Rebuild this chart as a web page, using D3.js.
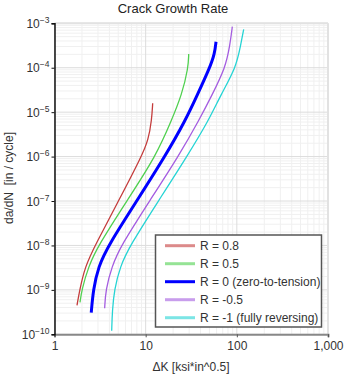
<!DOCTYPE html>
<html>
<head>
<meta charset="utf-8">
<script src="https://cdn.jsdelivr.net/npm/d3@7"></script>
<style>
  html, body { margin: 0; padding: 0; background: #fff; }
  svg { display: block; font-family: "Liberation Sans", Arial, sans-serif; }
</style>
</head>
<body>
<svg id="chart" width="346" height="375"></svg>
<script>
// Stress intensity range (ksi*in^0.5) and growth rate (in/cycle) per stress ratio
const kR08 = [1.765, 1.89, 2.16, 2.78, 5.1, 9.05, 10.69, 11.65, 11.94];
const rateR08 = [4.5e-10, 1e-9, 3.3e-9, 1e-8, 1.05e-7, 1.03e-6, 2.36e-6, 6.7e-6, 1.58e-5];

const kR05 = [1.905, 1.99, 2.35, 3.02, 6.3, 12.98, 19.3, 24.85, 29.35, 29.65];
const rateR05 = [5.25e-10, 1e-9, 3.3e-9, 1e-8, 1.05e-7, 1.03e-6, 6.7e-6, 2.43e-5, 1e-4, 2.04e-4];

const kR0 = [2.53, 2.66, 3.02, 3.89, 8.1, 16.42, 27.5, 36.8, 50.5, 57.2, 59.1];
const rateR0 = [3.06e-10, 1e-9, 3.3e-9, 1e-8, 1.05e-7, 1.03e-6, 6.7e-6, 2.43e-5, 1e-4, 2.11e-4, 3.85e-4];

const kRm05 = [3.55, 3.64, 4.24, 5.36, 11.2, 23.0, 38.7, 53.4, 75.0, 84.1, 89.2];
const rateRm05 = [3.85e-10, 1e-9, 3.3e-9, 1e-8, 1.05e-7, 1.03e-6, 6.7e-6, 2.43e-5, 1e-4, 3.25e-4, 8.4e-4];

const kRm1 = [4.24, 4.31, 4.53, 5.23, 6.73, 14.0, 28.6, 49.5, 66.5, 97.9, 110.3, 118.9];
const rateRm1 = [1.2e-10, 3.5e-10, 1e-9, 3.3e-9, 1e-8, 1.05e-7, 1.03e-6, 6.7e-6, 2.43e-5, 1e-4, 3.25e-4, 7.3e-4];

const seriesNames = ["R = 0.8", "R = 0.5", "R = 0 (zero-to-tension)", "R = -0.5", "R = -1 (fully reversing)"];
const seriesColors = ["#c43c3c", "#4fd04f", "#0000ff", "#a45ce0", "#25d4d4"];

const xTickValues = [1, 10, 100, 1000];
const xTickLabels = ["1", "10", "100", "1,000"];
const yTickExponents = [-3, -4, -5, -6, -7, -8, -9, -10];

const series = [
  { name: seriesNames[0], color: seriesColors[0], width: 1.3, k: kR08, rate: rateR08 },
  { name: seriesNames[1], color: seriesColors[1], width: 1.3, k: kR05, rate: rateR05 },
  { name: seriesNames[2], color: seriesColors[2], width: 3, k: kR0, rate: rateR0 },
  { name: seriesNames[3], color: seriesColors[3], width: 1.3, k: kRm05, rate: rateRm05 },
  { name: seriesNames[4], color: seriesColors[4], width: 1.3, k: kRm1, rate: rateRm1 }
];

const svg = d3.select("#chart");
const plot = { left: 54.5, right: 328, top: 23.3, bottom: 334.3 };

const x = d3.scaleLog().domain([1, 1000]).range([plot.left, plot.right]);
const y = d3.scaleLog().domain([1e-10, 1e-3]).range([plot.bottom, plot.top]);

// Title
svg.append("text")
  .attr("x", 173).attr("y", 13)
  .attr("text-anchor", "middle")
  .attr("font-size", 13)
  .attr("fill", "#222")
  .text("Crack Growth Rate");

// Grid lines: minor then major
const grid = svg.append("g");
const minorX = [], minorY = [];
for (let d = 0; d < 3; d++) for (let m = 2; m <= 9; m++) minorX.push(m * Math.pow(10, d));
for (let e = -10; e < -3; e++) for (let m = 2; m <= 9; m++) minorY.push(m * Math.pow(10, e));

grid.selectAll(".mx").data(minorX).join("line")
  .attr("x1", d => x(d)).attr("x2", d => x(d))
  .attr("y1", plot.top).attr("y2", plot.bottom)
  .attr("stroke", "#f0f0f0").attr("stroke-width", 1);
grid.selectAll(".my").data(minorY).join("line")
  .attr("x1", plot.left).attr("x2", plot.right)
  .attr("y1", d => y(d)).attr("y2", d => y(d))
  .attr("stroke", "#f0f0f0").attr("stroke-width", 1);
grid.selectAll(".Mx").data(xTickValues).join("line")
  .attr("x1", d => x(d)).attr("x2", d => x(d))
  .attr("y1", plot.top).attr("y2", plot.bottom)
  .attr("stroke", "#dcdcdc").attr("stroke-width", 1);
grid.selectAll(".My").data(yTickExponents).join("line")
  .attr("x1", plot.left).attr("x2", plot.right)
  .attr("y1", d => y(Math.pow(10, d))).attr("y2", d => y(Math.pow(10, d)))
  .attr("stroke", "#dcdcdc").attr("stroke-width", 1);

// Light frame on top and right
svg.append("line").attr("x1", plot.left).attr("x2", plot.right)
  .attr("y1", plot.top).attr("y2", plot.top)
  .attr("stroke", "#e2e2e2").attr("stroke-width", 2);
svg.append("line").attr("x1", plot.right).attr("x2", plot.right)
  .attr("y1", plot.top).attr("y2", plot.bottom)
  .attr("stroke", "#e2e2e2").attr("stroke-width", 2);

// Curves
svg.append("clipPath").attr("id", "clip").append("rect")
  .attr("x", plot.left).attr("y", plot.top)
  .attr("width", plot.right - plot.left).attr("height", plot.bottom - plot.top);

const line = d3.line()
  .x(d => x(d[0]))
  .y(d => y(d[1]))
  .curve(d3.curveBasis);

svg.append("g").attr("clip-path", "url(#clip)")
  .selectAll("path").data(series).join("path")
  .attr("fill", "none")
  .attr("stroke", d => d.color)
  .attr("stroke-width", d => d.width)
  .attr("stroke-linejoin", "round")
  .attr("d", d => line(d.k.map((k, i) => [k, d.rate[i]])));

// X axis
const xAxis = svg.append("g")
  .attr("transform", `translate(0,${plot.bottom})`)
  .call(d3.axisBottom(x).tickValues(xTickValues)
    .tickFormat((d, i) => xTickLabels[i]).tickSize(3).tickPadding(4));
xAxis.select(".domain").attr("stroke", "#888").attr("stroke-width", 2);
xAxis.selectAll(".tick line").attr("stroke", "#555");
xAxis.selectAll(".tick text")
  .attr("font-size", 12).attr("fill", "#333")
  .attr("font-family", "Liberation Sans, Arial, sans-serif");

// Y axis with power-of-ten labels
const yAxis = svg.append("g")
  .attr("transform", `translate(${plot.left},0)`)
  .call(d3.axisLeft(y).tickValues(yTickExponents.map(e => Math.pow(10, e)))
    .tickFormat("").tickSize(3));
yAxis.select(".domain").attr("stroke", "#111").attr("stroke-width", 1.5);
yAxis.selectAll(".tick line").attr("stroke", "#111");

const yLabels = svg.append("g")
  .attr("font-size", 12).attr("fill", "#333").attr("text-anchor", "end");
yTickExponents.forEach(e => {
  const t = yLabels.append("text")
    .attr("x", 49.5)
    .attr("y", y(Math.pow(10, e)) + 4.5);
  t.append("tspan").text("10");
  t.append("tspan").attr("font-size", 8.5).attr("dy", -5).text("\u2212" + Math.abs(e));
});

// Axis titles
svg.append("text")
  .attr("x", 191).attr("y", 371)
  .attr("text-anchor", "middle")
  .attr("font-size", 12).attr("fill", "#333")
  .text("\u0394K [ksi*in^0.5]");

svg.append("text")
  .attr("transform", "translate(13,178) rotate(-90)")
  .attr("text-anchor", "middle")
  .attr("font-size", 12).attr("fill", "#333")
  .attr("xml:space", "preserve")
  .text("da/dN  [in / cycle]");

// Legend
const legend = svg.append("g");
legend.append("rect")
  .attr("x", 155.5).attr("y", 235)
  .attr("width", 166).attr("height", 92)
  .attr("fill", "#fff").attr("stroke", "#555").attr("stroke-width", 1.5);

const legendRow = d3.scaleLinear().domain([0, 4]).range([245.7, 317.7]);
const rows = legend.selectAll(".row").data(series).join("g")
  .attr("transform", (d, i) => `translate(0,${legendRow(i)})`);
rows.append("line")
  .attr("x1", 165).attr("x2", 195)
  .attr("stroke", d => d.color)
  .attr("stroke-opacity", d => d.width > 2 ? 1 : 0.6)
  .attr("stroke-width", 3);
rows.append("text")
  .attr("x", 200).attr("y", 4.3)
  .attr("font-size", 12).attr("fill", "#333")
  .text(d => d.name);
</script>
</body>
</html>
